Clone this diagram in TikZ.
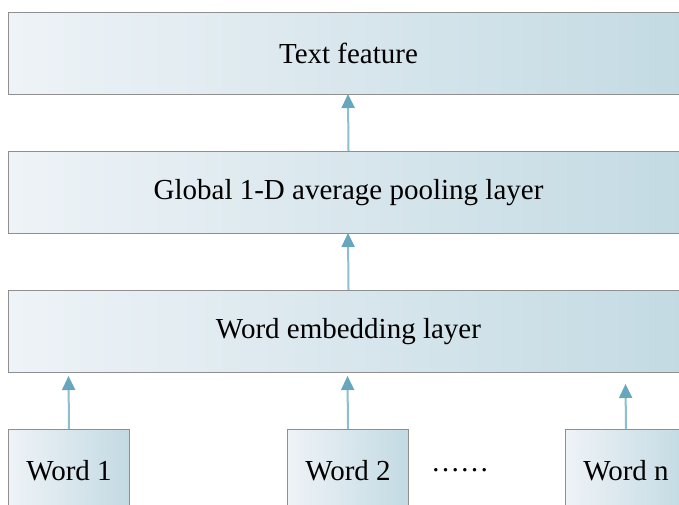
\documentclass[tikz,border=0pt]{standalone}
\usepackage{fontspec}
\setmainfont{Liberation Serif}
\usetikzlibrary{arrows.meta}
\definecolor{boxL}{HTML}{EEF3F7}
\definecolor{boxR}{HTML}{C3DAE3}
\definecolor{boxline}{HTML}{8F8F8F}
\definecolor{arrline}{HTML}{8CBFCF}
\definecolor{arrhead}{HTML}{66A6BE}
\tikzset{
  layer/.style={draw=boxline, line width=1pt, left color=boxL, right color=boxR,
    minimum width=680pt, minimum height=82pt, inner sep=0pt, anchor=north west,
    font=\fontsize{29}{32}\selectfont},
  wordbox/.style={draw=boxline, line width=1pt, shading=axis, left color=boxL, right color=boxR,
    minimum width=121pt, minimum height=82pt, inner sep=0pt, anchor=north west,
    font=\fontsize{29}{32}\selectfont},
  uparrow/.style={draw=arrline, line width=2pt,
    -{Triangle[length=14pt,width=13pt,fill=arrhead,color=arrhead]}}
}
\begin{document}
\begin{tikzpicture}[x=1pt,y=-1pt]
\useasboundingbox (0,0) rectangle (679,504);
\clip (0,0) rectangle (679,504);
\node[layer] (tf) at (8,12) {Text feature};
\node[layer] (gp) at (8,151) {Global 1-D average pooling layer};
\node[layer] (we) at (8,290) {Word embedding layer};
\node[wordbox] (w1) at (8,429) {Word 1};
\node[wordbox] (w2) at (287,429) {Word 2};
\node[wordbox] (wn) at (565,429) {Word n};
\node[font=\fontsize{29}{32}\selectfont, anchor=base, inner sep=0pt] (dots) at (460,471) {……};
\coordinate (gpTop) at (348,94);
\coordinate (weTop) at (348,233);
\coordinate (a1) at (68.5,376);
\coordinate (a2) at (347.5,376);
\coordinate (an) at (625.5,384);
\draw[uparrow] (gp.north) -- (gpTop);
\draw[uparrow] (we.north) -- (weTop);
\draw[uparrow] (w1.north) -- (a1);
\draw[uparrow] (w2.north) -- (a2);
\draw[uparrow] (wn.north) -- (an);
\end{tikzpicture}
\end{document}
